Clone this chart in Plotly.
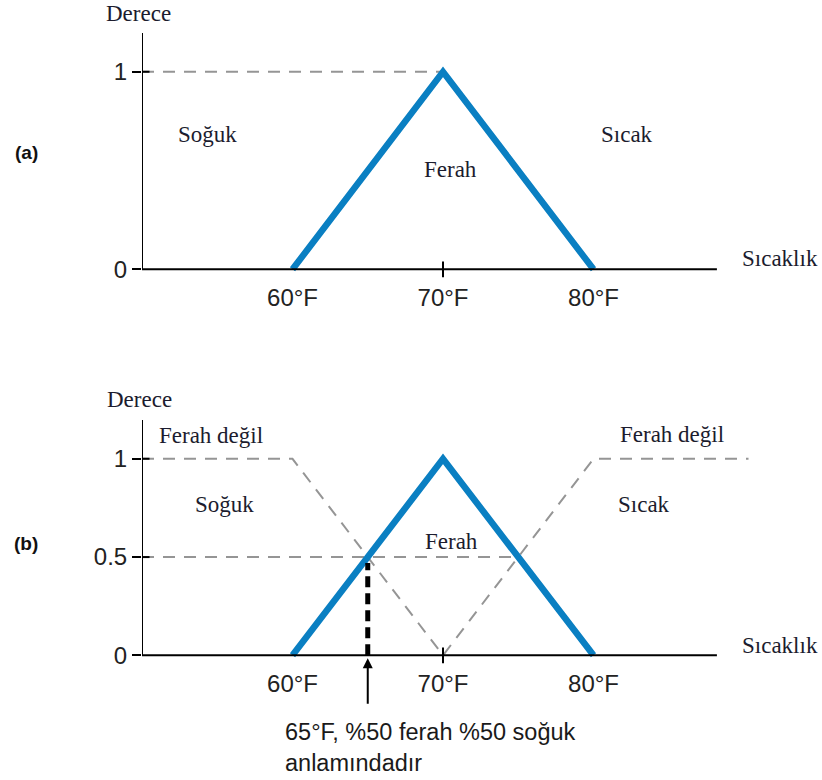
import plotly.graph_objects as go

W, H = 822, 780

# Membership functions (temperature in °F, degree 0..1)
comfort_x = [60, 70, 80]
comfort_y = [0, 1, 0]
not_comfort_x = [50, 60, 70, 80, 90.3]
not_comfort_y = [1, 1, 0, 1, 1]
top_guide_x = [50, 70]
top_guide_y = [1, 1]
half_guide_x = [50, 75]
half_guide_y = [0.5, 0.5]
marker_x = [65, 65]
marker_y = [0, 0.47]

x_ticks = [60, 70, 80]
x_ticktext = ["60°F", "70°F", "80°F"]
ya_ticks = [0, 1]
yb_ticks = [0, 0.5, 1]

BLUE = "#0a7fc2"
GREY = "#959595"
SERIF = "Liberation Serif, Times New Roman, serif"
SANS = "Liberation Sans, Arial, sans-serif"
TXT = "#1c1c2e"

X_RANGE = [50, 91]
X_DOM = [142 / W, (142 + 41 * 15.05) / W]


def ydom(zero_px, unit_px, lo, hi):
    bottom = zero_px - lo * unit_px
    top = zero_px - hi * unit_px
    return [(H - bottom) / H, (H - top) / H]


YA_RANGE = [-0.06, 1.2]
YB_RANGE = [-0.06, 1.2]

fig = go.Figure()

# (a) comfort triangle
fig.add_trace(go.Scatter(x=top_guide_x, y=top_guide_y, mode="lines",
                         line=dict(color=GREY, width=2, dash="12px,9px"),
                         xaxis="x", yaxis="y", hoverinfo="skip"))
fig.add_trace(go.Scatter(x=comfort_x, y=comfort_y, mode="lines",
                         line=dict(color=BLUE, width=6.5),
                         xaxis="x", yaxis="y"))

# (b) comfort vs. not comfortable
fig.add_trace(go.Scatter(x=not_comfort_x, y=not_comfort_y, mode="lines",
                         line=dict(color=GREY, width=2, dash="12px,9px"),
                         xaxis="x2", yaxis="y2", hoverinfo="skip"))
fig.add_trace(go.Scatter(x=half_guide_x, y=half_guide_y, mode="lines",
                         line=dict(color=GREY, width=2, dash="12px,9px"),
                         xaxis="x2", yaxis="y2", hoverinfo="skip"))
fig.add_trace(go.Scatter(x=comfort_x, y=comfort_y, mode="lines",
                         line=dict(color=BLUE, width=6.5),
                         xaxis="x2", yaxis="y2"))
fig.add_trace(go.Scatter(x=marker_x, y=marker_y, mode="lines",
                         line=dict(color="black", width=5, dash="11px,6px"),
                         xaxis="x2", yaxis="y2"))

shapes = []
for xr, yr in (("x", "y"), ("x2", "y2")):
    # axis lines
    shapes.append(dict(type="line", xref=xr, yref=yr, x0=50, x1=50, y0=0, y1=1.197,
                       line=dict(color="black", width=2)))
    shapes.append(dict(type="line", xref=xr, yref=yr, x0=50, x1=88.2, y0=0, y1=0,
                       line=dict(color="black", width=2)))
    # tick crossing the x axis at 70
    shapes.append(dict(type="line", xref=xr, yref=yr, x0=70, x1=70, y0=-0.04, y1=0.04,
                       line=dict(color="black", width=2)))
for yv in ya_ticks[1:]:
    shapes.append(dict(type="line", xref="x", yref="y", x0=50, x1=50.5, y0=yv, y1=yv,
                       line=dict(color="black", width=2)))
for yv in yb_ticks[1:]:
    shapes.append(dict(type="line", xref="x2", yref="y2", x0=50, x1=50.5, y0=yv, y1=yv,
                       line=dict(color="black", width=2)))


def lab(text, px, py, size=23, font=SERIF, color=TXT, **kw):
    d = dict(text=text, x=px / W, y=1 - py / H, xref="paper", yref="paper",
             showarrow=False, font=dict(family=font, size=size, color=color),
             xanchor="center", yanchor="middle")
    d.update(kw)
    return d


annotations = [
    lab("Derece", 138, 14),
    lab("Soğuk", 207, 135),
    lab("Ferah", 450, 170),
    lab("Sıcak", 627, 135),
    lab("Sıcaklık", 780, 259),
    lab("<b>(a)</b>", 26, 153, size=19, font=SANS, color="#111"),
    lab("Derece", 139, 401),
    lab("Ferah değil", 211, 437),
    lab("Soğuk", 224, 506),
    lab("Ferah", 451, 543),
    lab("Ferah değil", 672, 436),
    lab("Sıcak", 644, 506),
    lab("Sıcaklık", 780, 647),
    lab("<b>(b)</b>", 26, 545, size=19, font=SANS, color="#111"),
    lab("65°F, %50 ferah %50 soğuk<br>anlamındadır", 283, 749, size=23.5, font=SANS,
        color="#1a1a1a", xanchor="left", align="left"),
    dict(x=65, y=0, xref="x2", yref="y2", ax=0, ay=50, text="", showarrow=True,
         arrowhead=2, arrowsize=1, arrowwidth=2, arrowcolor="black", standoff=3),
]

common_x = dict(range=X_RANGE, domain=X_DOM, showgrid=False, zeroline=False,
                showline=False, ticks="", tickvals=x_ticks, ticktext=x_ticktext,
                tickfont=dict(family=SANS, size=24, color="#222"), fixedrange=True)
common_y = dict(showgrid=False, zeroline=False, showline=False, ticks="outside",
                ticklen=9, tickwidth=2, tickcolor="black",
                tickfont=dict(family=SANS, size=24, color="#222"), fixedrange=True)

fig.update_layout(
    width=W, height=H,
    margin=dict(l=0, r=0, t=0, b=0),
    paper_bgcolor="white", plot_bgcolor="white",
    showlegend=False,
    xaxis=dict(anchor="y", **common_x),
    yaxis=dict(anchor="x", range=YA_RANGE, domain=ydom(270, 198, *YA_RANGE),
               tickvals=ya_ticks, ticktext=["0", "1"], **common_y),
    xaxis2=dict(anchor="y2", **common_x),
    yaxis2=dict(anchor="x2", range=YB_RANGE, domain=ydom(657, 197, *YB_RANGE),
                tickvals=yb_ticks, ticktext=["0", "0.5", "1"], **common_y),
    shapes=shapes,
    annotations=annotations,
)

fig.write_html("out.html")
